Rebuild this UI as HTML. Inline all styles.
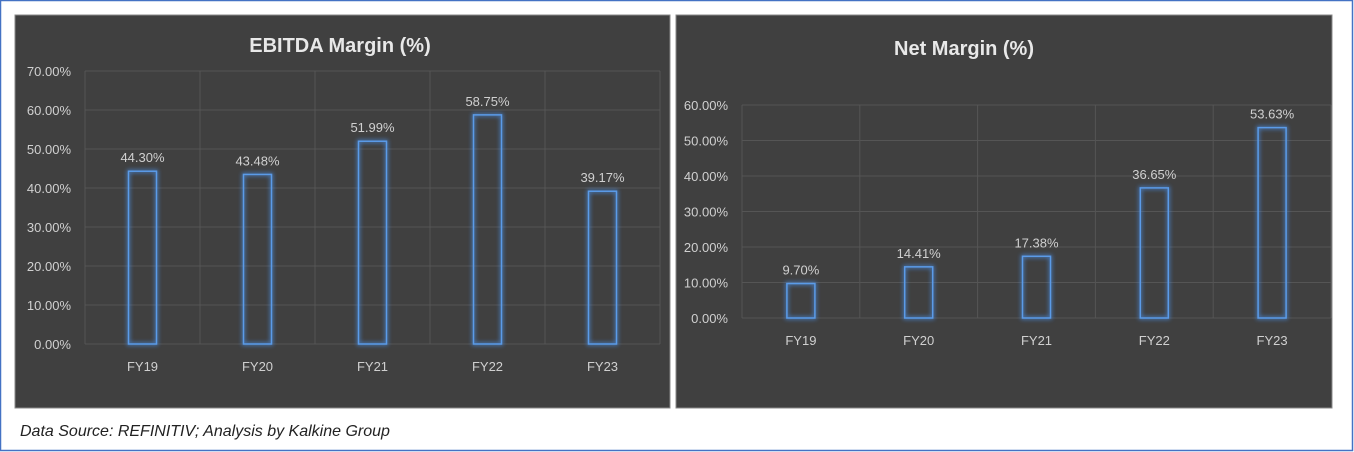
<!DOCTYPE html>
<html><head><meta charset="utf-8"><style>
body{margin:0;background:#fff;}
svg{display:block;font-family:"Liberation Sans",sans-serif;}
</style></head><body>
<svg width="1354" height="452">
<defs><filter id="glow" x="-50%" y="-50%" width="200%" height="200%"><feGaussianBlur stdDeviation="2"/></filter></defs>
<rect x="0.5" y="0.5" width="1352" height="450" fill="#fff" stroke="#4472c4" stroke-width="1.5"/>
<rect x="15" y="15" width="655" height="393" fill="#404040" stroke="#888"/>
<rect x="676" y="15" width="656" height="393" fill="#404040" stroke="#888"/>
<text x="340" y="52" fill="#e8e8e8" font-size="20" font-weight="bold" text-anchor="middle">EBITDA Margin (%)</text>
<text x="964" y="55" fill="#e8e8e8" font-size="20" font-weight="bold" text-anchor="middle">Net Margin (%)</text>
<g id="c1"></g><g id="c2"></g>
<text x="20" y="436" fill="#222" font-size="16" font-style="italic">Data Source: REFINITIV; Analysis by Kalkine Group</text>
</svg>
<script>
const categories=["FY19","FY20","FY21","FY22","FY23"];
const ebitdaValues=[44.30,43.48,51.99,58.75,39.17];
const netValues=[9.70,14.41,17.38,36.65,53.63];
const ebitdaTicks=[0,10,20,30,40,50,60,70];
const netTicks=[0,10,20,30,40,50,60];
const NS="http://www.w3.org/2000/svg";
function mk(p,t,a){const e=document.createElementNS(NS,t);for(const k in a)e.setAttribute(k,a[k]);p.appendChild(e);return e;}
function draw(g,vals,ticks,x0,x1,y0,y1,maxV,nm){
  const cw=(x1-x0)/categories.length;
  const ys=v=>y0-(v/maxV)*(y0-y1);
  ticks.forEach(t=>{
    const y=ys(t);
    const l=mk(g,"line",{x1:x0,x2:x1,y1:y,y2:y,stroke:"#555","stroke-width":1});
    
    
    const tx=mk(g,"text",{x:x0-14,y:y+5,fill:"#d0d0d0","font-size":13,"text-anchor":"end"});
    tx.textContent=t.toFixed(2)+"%";
    
    
  });
  for(let i=0;i<=categories.length;i++){
    const l=mk(g,"line",{x1:x0+i*cw,x2:x0+i*cw,y1:ys(ticks[ticks.length-1]),y2:y0,stroke:"#555","stroke-width":1});
    
    
  }
  categories.forEach((c,i)=>{
    const cx=x0+(i+0.5)*cw,v=vals[i],y=ys(v),w=28;
    const gl=mk(g,"rect",{x:cx-w/2,y:y,width:w,height:y0-y,fill:"none",stroke:"#4a8be0","stroke-width":3,filter:"url(#glow)",opacity:0.8});
    
    
    const b=mk(g,"rect",{x:cx-w/2,y:y,width:w,height:y0-y,fill:"none",stroke:"#5b9be8","stroke-width":1.5});
    
    
    const t=mk(g,"text",{x:cx,y:y-9,fill:"#d0d0d0","font-size":13,"text-anchor":"middle"});
    t.textContent=v.toFixed(2)+"%";
    
    
    const xl=mk(g,"text",{x:cx,y:y0+27,fill:"#d0d0d0","font-size":13,"text-anchor":"middle"});
    xl.textContent=c;
    
    
  });
}
draw(document.getElementById("c1"),ebitdaValues,ebitdaTicks,85,660,344,71,70,"ebitda");
draw(document.getElementById("c2"),netValues,netTicks,742,1331,318,105,60,"net");
</script>
</body></html>
